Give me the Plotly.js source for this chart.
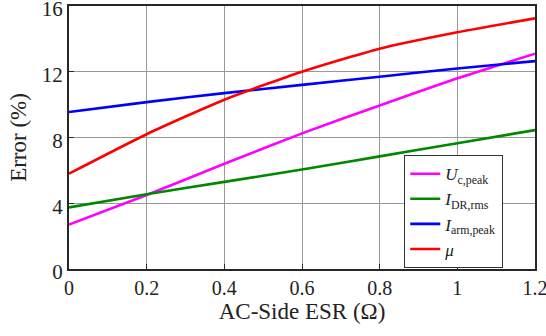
<!DOCTYPE html>
<html><head><meta charset="utf-8">
<script src="https://cdn.plot.ly/plotly-3.0.1.min.js"></script>
<style>html,body{margin:0;padding:0;background:#fff}#c{width:546px;height:336px}</style>
</head><body><div id="c"></div>
<script>
const esr = [0, 0.2, 0.4, 0.6, 0.8, 1.0, 1.2];
const ucPeak = [2.7, 4.5, 6.4, 8.25, 9.95, 11.6, 13.1];
const idrRms = [3.75, 4.55, 5.3, 6.05, 6.85, 7.65, 8.45];
const iarmPeak = [9.55, 10.15, 10.7, 11.2, 11.7, 12.2, 12.65];
const mu = [5.8, 8.2, 10.3, 12.0, 13.4, 14.4, 15.25];
const xTicks = [0, 0.2, 0.4, 0.6, 0.8, 1, 1.2];
const xTickText = ['0', '0.2', '0.4', '0.6', '0.8', '1', '1.2'];
const yTicks = [0, 4, 8, 12, 16];
const names = ['<i>U</i><sub>c,peak</sub>', '<i>I</i><sub>DR,rms</sub>', '<i>I</i><sub>arm,peak</sub>', '<i>μ</i>'];
const colors = ['#ff00ff', '#008800', '#0000ff', '#ff0000'];
const series = [ucPeak, idrRms, iarmPeak, mu];
const traces = series.map((s, i) => ({
  x: esr, y: s, type: 'scatter', mode: 'lines', name: names[i],
  line: {color: colors[i], width: 2.6, shape: 'spline', smoothing: 0.6}
}));
const FAM = 'Liberation Serif';
Plotly.newPlot('c', traces, {
  width: 546, height: 336,
  margin: {l: 69, r: 11, t: 6, b: 67},
  paper_bgcolor: '#fff', plot_bgcolor: '#fff',
  font: {family: FAM, size: 20, color: '#222'},
  showlegend: true,
  legend: {x: 0.719, y: 0.004, xanchor: 'left', yanchor: 'bottom', bgcolor: '#fff',
    bordercolor: '#333', borderwidth: 1.2, font: {family: FAM, size: 17, color: '#222'},
    tracegroupgap: 0},
  xaxis: {range: [0, 1.2], tickmode: 'array', tickvals: xTicks, ticktext: xTickText,
    ticklabeloverflow: 'allow',
    showgrid: true, gridcolor: '#999', gridwidth: 1, zeroline: false,
    showline: true, linecolor: '#262626', linewidth: 2.2, mirror: true,
    ticks: 'inside', ticklen: 5, tickcolor: '#262626',
    tickfont: {family: FAM, size: 20, color: '#222'},
    title: {text: 'AC-Side ESR (Ω)', font: {family: FAM, size: 23, color: '#222'}, standoff: 5}},
  yaxis: {range: [0, 16], tickmode: 'array', tickvals: yTicks,
    ticklabeloverflow: 'allow', ticklabelshift: 3,
    showgrid: true, gridcolor: '#999', gridwidth: 1, zeroline: false,
    showline: true, linecolor: '#262626', linewidth: 2.2, mirror: true,
    ticks: 'inside', ticklen: 5, tickcolor: '#262626',
    tickfont: {family: FAM, size: 21, color: '#222'},
    title: {text: 'Error (%)', font: {family: FAM, size: 23, color: '#222'}, standoff: 9}}
}, {displayModeBar: false});
</script></body></html>
